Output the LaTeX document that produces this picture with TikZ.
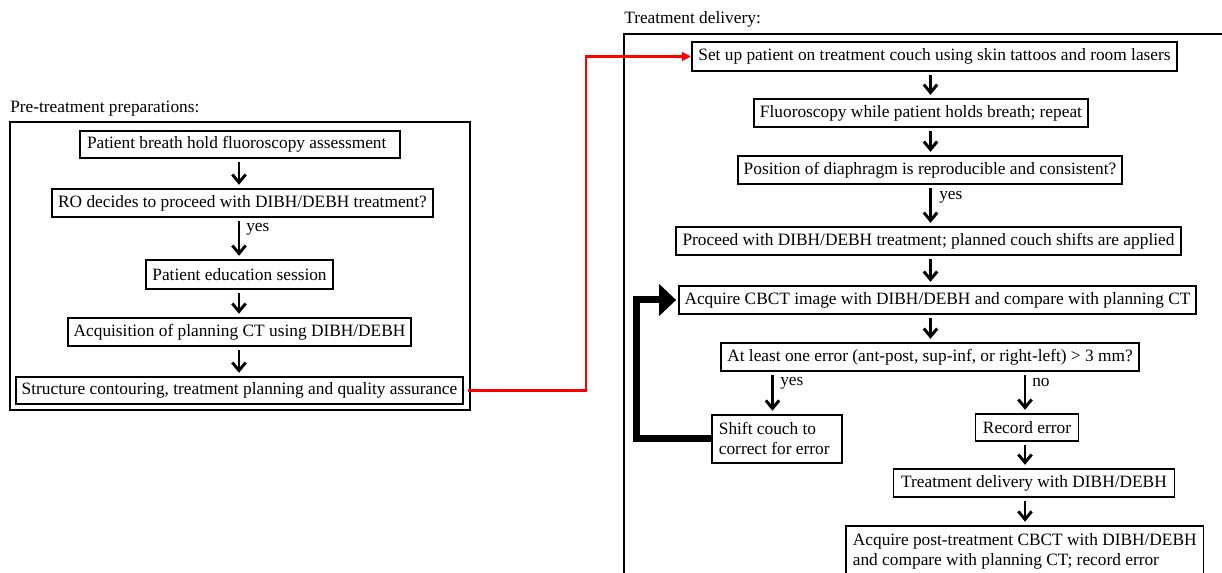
\documentclass[tikz,border=0pt]{standalone}
\usepackage{fontspec}
\setmainfont{Liberation Serif}
\usetikzlibrary{arrows.meta,calc}
\begin{document}
\begin{tikzpicture}[x=0.75pt,y=-0.75pt,
  txt/.style={font=\fontsize{13}{15}\selectfont},
  box/.style={txt,draw,line width=1.3pt,inner sep=0pt,align=center},
  lbox/.style={txt,draw,line width=1.3pt,inner xsep=5.25pt,inner ysep=3pt,align=flush left},
  outer/.style={draw,line width=1.6pt},
  lbl/.style={txt,inner sep=0pt},
  arr/.style={line width=2.2pt,-{Straight Barb[length=6pt,width=10pt]},shorten <=2.5pt,shorten >=2.5pt},
  redarr/.style={red,line width=1.6pt,-{Triangle[length=7pt,width=6.5pt]},shorten <=3pt},
  backarr/.style={line width=5.25pt,line join=miter,-{Triangle[length=12.75pt,width=23.25pt]},shorten >=1.5pt}
]
\useasboundingbox (0,0) rectangle (1222,573);
\clip (0,0) rectangle (1222,573);

% titles
\node[lbl,anchor=base west] (t1) at (10,113) {Pre-treatment preparations:};
\node[lbl,anchor=base west] (t2) at (624,24) {Treatment delivery:};

% outer boxes
\draw[outer] (10,122) rectangle (470,410);
\draw[outer] (624,34) rectangle (1240,600);

% left column
\node[box,minimum width=240pt,minimum height=20.25pt] (L1) at (240,144.5) {\makebox[229.5pt][l]{Patient breath hold fluoroscopy assessment}};
\node[box,minimum width=285.75pt,minimum height=21pt] (L2) at (242.5,203) {RO decides to proceed with DIBH/DEBH treatment?};
\node[box,minimum width=140.25pt,minimum height=21.75pt] (L3) at (239.5,274.5) {Patient education session};
\node[box,minimum width=257.25pt,minimum height=21pt] (L4) at (239.5,332) {Acquisition of planning CT using DIBH/DEBH};
\node[box,minimum width=335.25pt,minimum height=20.25pt] (L5) at (239.5,390.5) {Structure contouring, treatment planning and quality assurance};

\coordinate (lc) at (239,0);
\draw[arr] (L1.south -| lc) -- (L2.north -| lc);
\draw[arr] (L2.south -| lc) -- (L3.north -| lc);
\draw[arr] (L3.south -| lc) -- (L4.north -| lc);
\draw[arr] (L4.south -| lc) -- (L5.north -| lc);
\node[lbl,anchor=west] (ly) at (246,229) {yes};

% right column
\node[box,minimum width=363.75pt,minimum height=21.75pt] (R1) at (934.5,56.5) {Set up patient on treatment couch using skin tattoos and room lasers};
\node[box,minimum width=250.5pt,minimum height=21pt] (R2) at (921,113) {Fluoroscopy while patient holds breath; repeat};
\node[box,minimum width=288pt,minimum height=21pt] (R3) at (930,170) {Position of diaphragm is reproducible and consistent?};
\node[box,minimum width=378.75pt,minimum height=21pt] (R4) at (928.5,241) {Proceed with DIBH/DEBH treatment; planned couch shifts are applied};
\node[box,minimum width=387.75pt,minimum height=21pt] (R5) at (937.5,300) {Acquire CBCT image with DIBH/DEBH and compare with planning CT};
\node[box,minimum width=313.5pt,minimum height=21pt] (R6) at (930,357) {At least one error (ant-post, sup-inf, or right-left) > 3 mm?};
\node[lbox,text width=87pt,anchor=north west,minimum height=36pt] (R7) at (711,414) {Shift couch to\\correct for error};
\node[box,minimum width=77.25pt,minimum height=20.25pt] (R8) at (1027,427.5) {Record error};
\node[box,minimum width=210.75pt,minimum height=21pt] (R9) at (1034,483) {Treatment delivery with DIBH/DEBH};
\node[lbox,anchor=north west,minimum height=37.5pt] (R10) at (845,525) {Acquire post-treatment CBCT with DIBH/DEBH\\and compare with planning CT; record error};

\coordinate (rc) at (930.5,0);
\coordinate (yc) at (772.5,0);
\coordinate (nc) at (1025,0);
\draw[arr] (R1.south -| rc) -- (R2.north -| rc);
\draw[arr] (R2.south -| rc) -- (R3.north -| rc);
\draw[arr] (R3.south -| rc) -- (R4.north -| rc);
\draw[arr] (R4.south -| rc) -- (R5.north -| rc);
\draw[arr] (R5.south -| rc) -- (R6.north -| rc);
\draw[arr] (R6.south -| yc) -- (R7.north -| yc);
\draw[arr] (R6.south -| nc) -- (R8.north -| nc);
\draw[arr] (R8.south -| nc) -- (R9.north -| nc);
\draw[arr] (R9.south -| nc) -- (R10.north -| nc);
\node[lbl,anchor=west] (ry1) at (939,197) {yes};
\node[lbl,anchor=west] (ry2) at (780,383) {yes};
\node[lbl,anchor=west] (rn) at (1032,383) {no};

% connectors
\coordinate (rx) at (586,0);
\draw[redarr] (L5.east) -- (L5.east -| rx) |- (R1.west);
\coordinate (fx) at (636,0);
\draw[backarr] (R7.west) -- (R7.west -| fx) |- (R5.west);
\end{tikzpicture}
\end{document}
